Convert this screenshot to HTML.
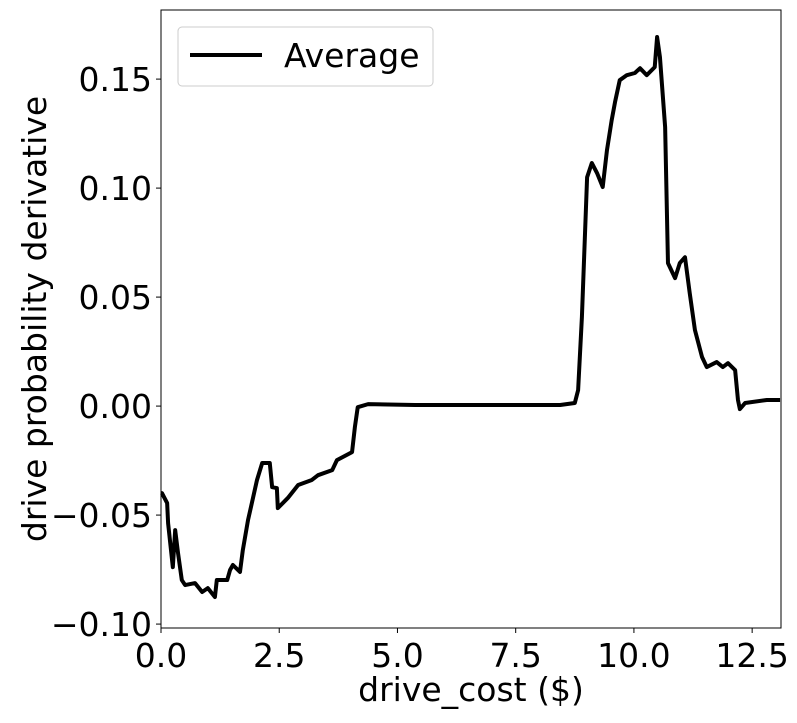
<!DOCTYPE html>
<html><head><meta charset="utf-8"><style>
body{margin:0;background:#fff;}
svg text{font-family:"DejaVu Sans","Liberation Sans",sans-serif;fill:#000;}
</style></head><body>
<svg id="chart" width="797" height="718" xmlns="http://www.w3.org/2000/svg">
<g id="axes"></g>
</svg>
<script>
const xVals=[0,0.02,0.13,0.15,0.25,0.30,0.36,0.44,0.51,0.72,0.87,0.99,1.14,1.18,1.40,1.46,1.52,1.67,1.73,1.84,1.95,2.03,2.14,2.30,2.35,2.45,2.47,2.68,2.90,3.19,3.32,3.62,3.72,4.04,4.10,4.16,4.38,5.37,8.44,8.75,8.82,8.90,9.01,9.11,9.22,9.34,9.43,9.53,9.60,9.70,9.85,10.02,10.13,10.27,10.44,10.49,10.55,10.66,10.72,10.87,10.97,11.08,11.18,11.29,11.44,11.54,11.75,11.88,11.99,12.14,12.20,12.24,12.35,12.81,13.09];
const yVals=[-0.0399,-0.0399,-0.0445,-0.0537,-0.0739,-0.0569,-0.0674,-0.0798,-0.0821,-0.0812,-0.0853,-0.0835,-0.0876,-0.0798,-0.0798,-0.0752,-0.0729,-0.0761,-0.0661,-0.0523,-0.0417,-0.0339,-0.0261,-0.0261,-0.0372,-0.0376,-0.0468,-0.0422,-0.0362,-0.0339,-0.0317,-0.0294,-0.0248,-0.0211,-0.0096,-0.0005,0.0009,0.0005,0.0005,0.0014,0.0073,0.0408,0.1050,0.1115,0.1069,0.1005,0.1174,0.1312,0.1394,0.1495,0.1518,0.1528,0.1550,0.1518,0.1555,0.1693,0.1601,0.1280,0.0656,0.0587,0.0656,0.0683,0.0518,0.0349,0.0225,0.0179,0.0202,0.0179,0.0197,0.0165,0.0028,-0.0014,0.0014,0.0028,0.0028];
const xTicks=[0,2.5,5,7.5,10,12.5];
const xTickLabels=["0.0","2.5","5.0","7.5","10.0","12.5"];
const yTicks=[-0.10,-0.05,0,0.05,0.10,0.15];
const yTickLabels=["\u22120.10","\u22120.05","0.00","0.05","0.10","0.15"];

const L=161,R=781,T=10,B=628;
const xMin=0,xMax=13.11,yMin=-0.1018,yMax=0.1817;
function sx(v){return L+(v-xMin)/(xMax-xMin)*(R-L);}
function sy(v){return B-(v-yMin)/(yMax-yMin)*(B-T);}
const NS="http://www.w3.org/2000/svg";
const g=document.getElementById('axes');
function el(t,a){const e=document.createElementNS(NS,t);for(const k in a)e.setAttribute(k,a[k]);g.appendChild(e);return e;}

const line=el('polyline',{points:xVals.map((x,i)=>sx(x)+','+sy(yVals[i])).join(' '),fill:'none',stroke:'#000','stroke-width':4,'stroke-linejoin':'round'});



const frame=el('rect',{x:L,y:T,width:R-L,height:B-T,fill:'none',stroke:'#000','stroke-width':1});



xTicks.forEach((v,i)=>{
  const x=sx(v);
  el('line',{x1:x,x2:x,y1:B,y2:B+5,stroke:'#000'});
  const t=el('text',{x:x,y:B+39,'font-size':33,'text-anchor':'middle'});
  t.textContent=xTickLabels[i];
  
  
});
yTicks.forEach((v,i)=>{
  const y=sy(v);
  el('line',{x1:L-5,x2:L,y1:y,y2:y,stroke:'#000'});
  const t=el('text',{x:L-9,y:y+12,'font-size':33,'text-anchor':'end'});
  t.textContent=yTickLabels[i];
  
  
});
const xl=el('text',{x:(L+R)/2,y:701,'font-size':33,'text-anchor':'middle'});
xl.textContent='drive_cost ($)';


const yl=el('text',{x:0,y:0,'font-size':33,'text-anchor':'middle',transform:'translate(46,319) rotate(-90)'});
yl.textContent='drive probability derivative';



const lb=el('rect',{x:178,y:27,width:255,height:59,rx:4,fill:'#fff',stroke:'#ccc','stroke-width':1});


const ll=el('line',{x1:190,x2:262,y1:55,y2:55,stroke:'#000','stroke-width':4});


const lt=el('text',{x:284,y:67,'font-size':33});
lt.textContent='Average';


</script>
</body></html>
